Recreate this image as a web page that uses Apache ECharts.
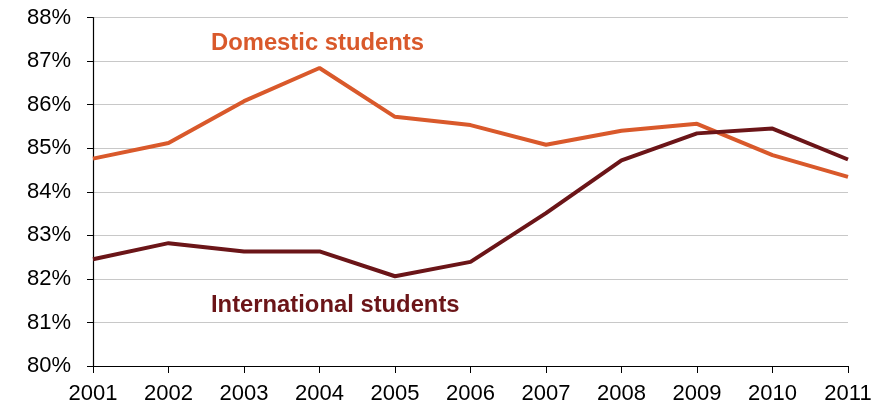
<!DOCTYPE html>
<html>
<head>
<meta charset="utf-8">
<script src="https://cdn.jsdelivr.net/npm/echarts@6/dist/echarts.min.js"></script>
<style>
  html, body { margin: 0; padding: 0; background: #fff; }
  #chart { width: 887px; height: 410px; }
</style>
</head>
<body>
<div id="chart"></div>
<script>
// 数据
var years = ['2001', '2002', '2003', '2004', '2005', '2006', '2007', '2008', '2009', '2010', '2011'];
var domestic = [84.76, 85.12, 86.08, 86.84, 85.72, 85.53, 85.08, 85.40, 85.56, 84.84, 84.34];
var international = [82.45, 82.82, 82.63, 82.63, 82.06, 82.39, 83.51, 84.72, 85.34, 85.45, 84.74];
var yTicks = [80, 81, 82, 83, 84, 85, 86, 87, 88];

var chart = echarts.init(document.getElementById('chart'));
var font = 'Liberation Sans, Arial, Helvetica, sans-serif';

var option = {
    animation: false,
    grid: { left: 93, right: 39, top: 17.5, bottom: 44, containLabel: false },
    xAxis: {
        type: 'category',
        data: years,
        boundaryGap: false,
        axisLine: { lineStyle: { color: '#000', width: 1.2 } },
        axisTick: { alignWithLabel: true, length: 7, lineStyle: { color: '#000' } },
        axisLabel: { color: '#000', fontSize: 22, fontFamily: font, margin: 17 },
        splitLine: { show: false }
    },
    yAxis: {
        type: 'value',
        min: yTicks[0],
        max: yTicks[yTicks.length - 1],
        interval: 1,
        axisLine: { show: true, lineStyle: { color: '#000', width: 1.2 } },
        axisTick: { show: true, length: 6, lineStyle: { color: '#000' } },
        axisLabel: { color: '#000', fontSize: 22, fontFamily: font, margin: 22,
            formatter: function (v) { return v + '%'; } },
        splitLine: { lineStyle: { color: '#c8c8c8', width: 1.2 } }
    },
    series: [
        {
            name: 'Domestic students',
            type: 'line',
            data: domestic,
            symbol: 'none',
            lineStyle: { color: '#d9592b', width: 4 },
            z: 3
        },
        {
            name: 'International students',
            type: 'line',
            data: international,
            symbol: 'none',
            lineStyle: { color: '#6b1518', width: 4 },
            z: 4
        }
    ],
    graphic: [
        {
            type: 'text', left: 211, top: 31,
            style: { text: 'Domestic students', fill: '#d9592b', fontSize: 23.8, fontWeight: 'bold', fontFamily: font }
        },
        {
            type: 'text', left: 211, top: 293,
            style: { text: 'International students', fill: '#6b1518', fontSize: 23.8, fontWeight: 'bold', fontFamily: font }
        }
    ]
};

chart.setOption(option);
</script>
</body>
</html>
